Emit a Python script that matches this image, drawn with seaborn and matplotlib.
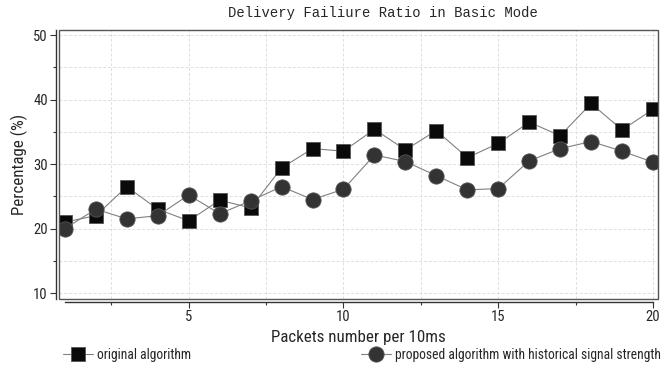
import matplotlib
matplotlib.use('Agg')
import pandas as pd
import matplotlib.pyplot as plt
import seaborn as sns
from matplotlib.patches import Rectangle
from matplotlib.ticker import MultipleLocator

packets = list(range(1, 21))
original = [21.0, 22.0, 26.5, 23.0, 21.2, 24.4, 23.2, 29.4, 32.4, 32.0,
            35.4, 32.2, 35.2, 31.0, 33.2, 36.5, 34.4, 39.4, 35.3, 38.5]
proposed = [20.0, 23.0, 21.5, 22.0, 25.2, 22.3, 24.3, 26.5, 24.5, 26.1,
            31.4, 30.4, 28.2, 26.0, 26.2, 30.5, 32.4, 33.5, 32.0, 30.3]
labels = ['original algorithm', 'proposed algorithm with historical signal strength']

sns.set_style('white')
narrow = ['Roboto Condensed', 'Liberation Sans', 'DejaVu Sans']
plt.rcParams['font.family'] = narrow

df = pd.DataFrame({'x': packets, 'orig': original, 'prop': proposed})

fig = plt.figure(figsize=(6.71, 3.67), dpi=100)
ax = fig.add_axes([59 / 671, 1 - 299 / 367, 599 / 671, 269 / 367])

sns.lineplot(data=df, x='x', y='orig', ax=ax, color='#808080', lw=0.8,
             marker='s', markersize=9.5, markerfacecolor='#0a0a0a',
             markeredgecolor='#555555', markeredgewidth=0.6, label=labels[0])
sns.lineplot(data=df, x='x', y='prop', ax=ax, color='#808080', lw=0.8,
             marker='o', markersize=11, markerfacecolor='#333333',
             markeredgecolor='#555555', markeredgewidth=0.6, label=labels[1])

ax.set_xlim(0.81, 20.16)
ax.set_ylim(9.07, 50.8)
ax.xaxis.set_major_locator(MultipleLocator(5))
ax.xaxis.set_minor_locator(MultipleLocator(2.5))
ax.yaxis.set_major_locator(MultipleLocator(10))
ax.yaxis.set_minor_locator(MultipleLocator(5))
ax.grid(True, which='both', color='#dedede', ls=(0, (3, 2)), lw=0.7)

for s in ['top', 'right']:
    ax.spines[s].set_visible(False)
ax.spines['left'].set_position(('outward', 2))
ax.spines['bottom'].set_position(('outward', 2))
ax.spines['bottom'].set_bounds(1, 20)
for s in ['left', 'bottom']:
    ax.spines[s].set_color('#333333')
    ax.spines[s].set_linewidth(1.0)
ax.add_patch(Rectangle((0, 0), 1, 1, transform=ax.transAxes, fill=False,
                       edgecolor='#555555', lw=1.0, clip_on=False, zorder=5))

ax.tick_params(which='major', direction='out', length=4, width=0.8, color='#333333',
               labelsize=10.5, pad=2, left=True, bottom=True)
ax.tick_params(which='minor', direction='out', length=2, width=0.8, color='#333333',
               left=True, bottom=True)

ax.set_xlabel('Packets number per 10ms', fontsize=12.2, labelpad=4)
ax.set_ylabel('Percentage (%)', fontsize=12.2, labelpad=4)
fig.text(383 / 671, 1 - 13 / 367, 'Delivery Failiure Ratio in Basic Mode',
         ha='center', va='center', fontsize=10, family=['Liberation Mono', 'DejaVu Sans Mono'])

h, l = ax.get_legend_handles_labels()
ax.get_legend().remove()
fig.legend(h[:1], l[:1], loc='center left', bbox_to_anchor=(63 / 671, 1 - 355 / 367),
           frameon=False, fontsize=9.8, handlelength=2.2, handletextpad=0.3,
           borderaxespad=0, borderpad=0)
fig.legend(h[1:], l[1:], loc='center left', bbox_to_anchor=(361 / 671, 1 - 355 / 367),
           frameon=False, fontsize=9.8, handlelength=2.2, handletextpad=0.3,
           borderaxespad=0, borderpad=0)

fig.savefig('out.png', dpi=100)
